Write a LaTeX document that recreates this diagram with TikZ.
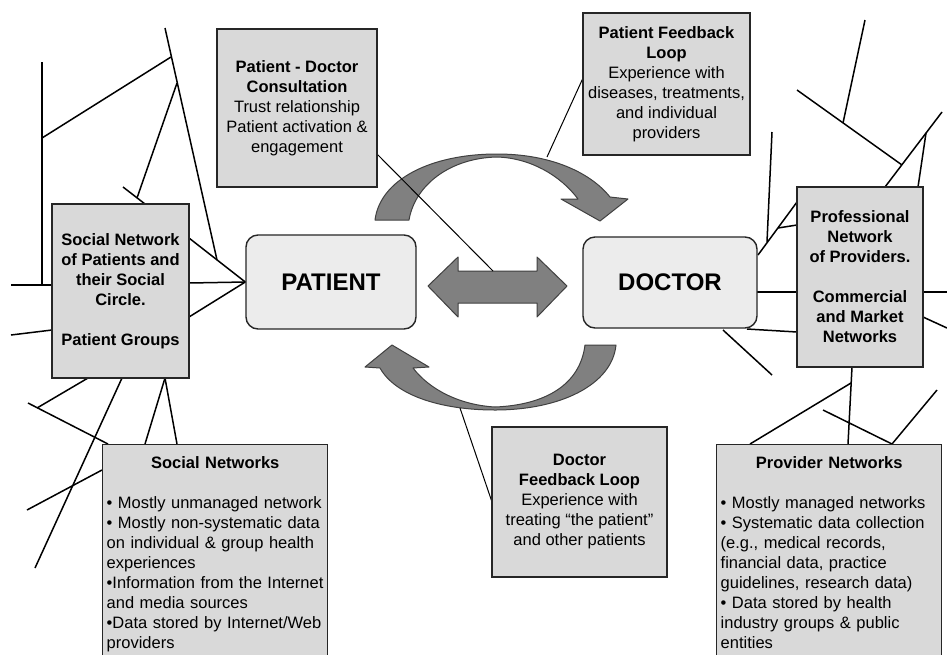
\documentclass[tikz,border=0pt]{standalone}
\usepackage{fontspec}
\setmainfont{Liberation Sans}
\usetikzlibrary{backgrounds}

\tikzset{
	infobox/.style={shape=rectangle, draw=black!85, line width=1.4pt, fill=gray!30, align=center, inner sep=0pt, font=\fontsize{16.5}{20}\selectfont},
	listbox/.style={infobox, anchor=north west, align=left, text width=217pt, inner xsep=4pt, inner ysep=12pt},
	actor/.style={shape=rectangle, rounded corners=12pt, draw=black!85, line width=1.4pt, fill=gray!15, font=\fontsize{24}{28}\selectfont\bfseries},
	net/.style={draw=black, line width=1.5pt},
	thin net/.style={draw=black, line width=1pt},
	loop arrow/.style={draw=black!75, line width=1pt, fill=black!50, line join=round},
}

\begin{document}
\begin{tikzpicture}[x=1pt, y=-1pt]
	\clip (0,0) rectangle (947,654);

	% the two actors
	\node[actor, minimum width=170pt, minimum height=94pt] (patient) at (331,282) {PATIENT};
	\node[actor, minimum width=174pt, minimum height=91pt] (doctor) at (670,282.5) {DOCTOR};

	% info boxes
	\node[infobox, minimum width=160pt, minimum height=158pt] (consult) at (297,108) {\textbf{Patient - Doctor}\\\textbf{Consultation}\\Trust relationship\\Patient activation \&\\engagement};
	\node[infobox, minimum width=167pt, minimum height=142pt] (pfeed) at (666.5,84) {\textbf{Patient Feedback}\\\textbf{Loop}\\Experience with\\diseases, treatments,\\and individual\\providers};
	\node[infobox, minimum width=175pt, minimum height=150pt] (dfeed) at (579.5,502) {\textbf{Doctor}\\\textbf{Feedback Loop}\\Experience with\\treating “the patient”\\and other patients};
	\node[infobox, minimum width=137pt, minimum height=174pt, font=\fontsize{16.5}{20}\selectfont\bfseries] (social) at (120.5,291) {Social Network\\of Patients and\\their Social\\Circle.\\[20pt]Patient Groups};
	\node[infobox, minimum width=126pt, minimum height=180pt, font=\fontsize{16.5}{20}\selectfont\bfseries] (prof) at (860,277) {Professional\\Network\\of Providers.\\[20pt]Commercial\\and Market\\Networks};

	% network lists
	\node[listbox] (socnet) at (102,444) {\makebox[\linewidth]{\textbf{Social Networks}}\\[20pt]• Mostly unmanaged network\\• Mostly non-systematic data\\on individual \& group health\\experiences\\•Information from the Internet\\and media sources\\•Data stored by Internet/Web\\providers};
	\node[listbox] (provnet) at (716,444) {\makebox[\linewidth]{\textbf{Provider Networks}}\\[20pt]• Mostly managed networks\\• Systematic data collection\\(e.g., medical records,\\financial data, practice\\guidelines, research data)\\• Data stored by health\\industry groups \& public\\entities};

	% strand ends and junctions
	\coordinate (a1) at (165,28);
	\coordinate (a2) at (217,260);
	\coordinate (a3) at (171,57);
	\coordinate (a4) at (42,138);
	\coordinate (a5) at (177,83);
	\coordinate (a6) at (137,198);
	\coordinate (a7) at (123,187);
	\coordinate (a8) at (145,204);
	\coordinate (a9) at (42,62);
	\coordinate (a10) at (42,285);
	\coordinate (a11) at (11,285);
	\coordinate (a12) at (52,285);
	\coordinate (a13) at (11,335);
	\coordinate (a14) at (52,330);
	\coordinate (a15) at (189,238);
	\coordinate (a16) at (189,283);
	\coordinate (a17) at (189,317);

	\coordinate (b1) at (88,378);
	\coordinate (b2) at (37,408);
	\coordinate (b3) at (28,403);
	\coordinate (b4) at (108,444);
	\coordinate (b5) at (122,378);
	\coordinate (b6) at (35,568);
	\coordinate (b7) at (165,378);
	\coordinate (b8) at (145,444);
	\coordinate (b9) at (177,444);
	\coordinate (b10) at (27,510);
	\coordinate (b11) at (102,470);

	\coordinate (m1) at (377,154);
	\coordinate (m2) at (493,271);
	\coordinate (m3) at (547,157);
	\coordinate (m4) at (583,78);
	\coordinate (m5) at (460,408);
	\coordinate (m6) at (492,502);

	\coordinate (r1) at (865,20);
	\coordinate (r2) at (843,123);
	\coordinate (r3) at (797,90);
	\coordinate (r4) at (902,165);
	\coordinate (r5) at (942,112);
	\coordinate (r6) at (885,187);
	\coordinate (r7) at (926,133);
	\coordinate (r8) at (918,187);
	\coordinate (r9) at (772,132);
	\coordinate (r10) at (767,242);
	\coordinate (r11) at (758,255);
	\coordinate (r12) at (797,202);
	\coordinate (r13) at (778,228);
	\coordinate (r14) at (797,225);
	\coordinate (r15) at (757,292);
	\coordinate (r16) at (797,292);
	\coordinate (r17) at (747,329);
	\coordinate (r18) at (797,332);
	\coordinate (r19) at (723,330);
	\coordinate (r20) at (772,375);
	\coordinate (r21) at (923,292);
	\coordinate (r22) at (947,292);
	\coordinate (r23) at (923,317);
	\coordinate (r24) at (947,328);
	\coordinate (r25) at (852,367);
	\coordinate (r26) at (848,444);
	\coordinate (r27) at (851,383);
	\coordinate (r28) at (750,444);
	\coordinate (r29) at (823,410);
	\coordinate (r30) at (892,444);
	\coordinate (r31) at (937,390);

	\begin{pgfonlayer}{background}
	\fill[white] (0,0) rectangle (947,654);

	% feedback loops
	\path[loop arrow] (375,220) .. controls (380,180) and (430,154) .. (497,154)
		.. controls (550,154) and (590,172) .. (610,197) -- (628,199) -- (600,221) -- (561,199) -- (578,199)
		.. controls (560,175) and (530,158) .. (497,157)
		.. controls (450,158) and (415,185) .. (409,220) -- cycle;
	\path[loop arrow] (616,345) .. controls (612,385) and (560,410) .. (495,410)
		.. controls (440,410) and (395,395) .. (380,368) -- (365,367) -- (392,345) -- (429,367) -- (413,368)
		.. controls (430,390) and (460,405) .. (495,407)
		.. controls (545,405) and (580,385) .. (585,345) -- cycle;
	% exchange
	\path[loop arrow] (428,286) -- (458,257) -- (458,271) -- (537,271) -- (537,257) -- (567,286)
		-- (537,317) -- (537,303) -- (458,303) -- (458,317) -- cycle;

	% patient side
	\path[net] (a1) edge (a2);
	\path[net] (a4) edge (a3);
	\path[net] (a5) edge (a6);
	\path[net] (a7) edge (a8);
	\path[net] (a9) edge (a10);
	\path[net] (a11) edge (a12);
	\path[net] (a13) edge (a14);
	\path[net] (a15) edge (patient.west);
	\path[net] (a16) edge (patient.west);
	\path[net] (a17) edge (patient.west);
	\path[net] (b1) edge (b2);
	\path[net] (b3) edge (b4);
	\path[net] (b5) edge (b6);
	\path[net] (b7) edge (b8);
	\path[net] (b7) edge (b9);
	\path[net] (b10) edge (b11);

	% middle
	\path[thin net] (m1) edge (m2);
	\path[thin net] (m3) edge (m4);
	\path[thin net] (m5) edge (m6);

	% doctor side
	\path[net] (r1) edge (r2);
	\path[net] (r3) edge (r4);
	\path[net] (r5) edge (r6);
	\path[net] (r7) edge (r8);
	\path[net] (r9) edge (r10);
	\path[net] (r11) edge (r12);
	\path[net] (r13) edge (r14);
	\path[net] (r15) edge (r16);
	\path[net] (r17) edge (r18);
	\path[net] (r19) edge (r20);
	\path[net] (r21) edge (r22);
	\path[net] (r23) edge (r24);
	\path[net] (r25) edge (r26);
	\path[net] (r27) edge (r28);
	\path[net] (r29) edge (r30);
	\path[net] (r30) edge (r31);
	\end{pgfonlayer}
\end{tikzpicture}
\end{document}
